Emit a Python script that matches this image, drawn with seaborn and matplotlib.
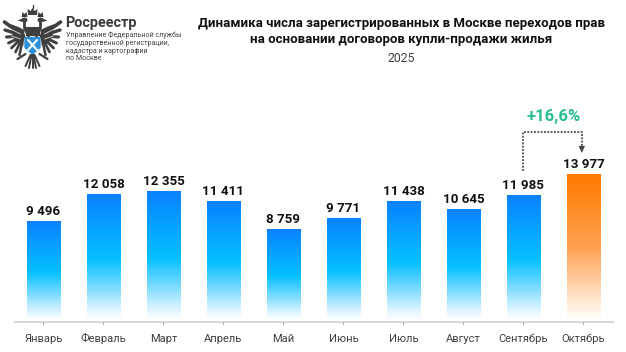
import numpy as np
import pandas as pd
import seaborn as sns
import matplotlib
matplotlib.use("Agg")
import matplotlib.pyplot as plt
from matplotlib.colors import LinearSegmentedColormap
from matplotlib.patches import Polygon, Ellipse

months = ["Январь", "Февраль", "Март", "Апрель", "Май", "Июнь", "Июль", "Август", "Сентябрь", "Октябрь"]
values = [9496, 12058, 12355, 11411, 8759, 9771, 11438, 10645, 11985, 13977]
value_labels = ["9 496", "12 058", "12 355", "11 411", "8 759", "9 771", "11 438", "10 645", "11 985", "13 977"]
change_label = "+16,6%"

W, H = 626, 352
sns.set_theme(style="white")
plt.rcParams["font.family"] = ["Roboto", "DejaVu Sans"]
fig = plt.figure(figsize=(W / 100, H / 100), dpi=100, facecolor="white")

left, right, base, top = 13.4, 613.4, 320, 60
ax = fig.add_axes([left / W, 1 - base / H, (right - left) / W, (base - top) / H])
df = pd.DataFrame({"month": months, "value": values})
sns.barplot(data=df, x="month", y="value", ax=ax, width=0.555, color="#0a84ff", saturation=1)
ax.set_xlim(-0.5, 9.5)
per_px = 13977 / 146
ax.set_ylim(0, (base - top) * per_px)
ax.set_xlabel(""); ax.set_ylabel("")
ax.set_yticks([])
for s in ["top", "left", "right", "bottom"]:
    ax.spines[s].set_visible(False)
ax.set_xticks(range(len(months)))
ax.set_xticklabels(months, fontsize=8.0, color="#404040", va="baseline")
ax.tick_params(axis="x", length=0, pad=16)

blue = LinearSegmentedColormap.from_list(
    "b", [(0, "#ffffff"), (0.1, "#d4f2ff"), (0.25, "#80dcff"), (0.48, "#05bfff"), (0.75, "#069fff"), (1, "#0a80ff")])
orange = LinearSegmentedColormap.from_list(
    "o", [(0, "#fffefc"), (0.1, "#ffeedd"), (0.25, "#ffd0a8"), (0.5, "#ffa050"), (1, "#ff7a00")])
grad = np.linspace(0, 1, 256).reshape(-1, 1)
ylim = ax.get_ylim()
for i, p in enumerate(ax.patches):
    x0, w, h = p.get_x(), p.get_width(), p.get_height()
    cm = orange if i == len(ax.patches) - 1 else blue
    im = ax.imshow(grad, extent=[x0, x0 + w, 0, h], origin="lower", cmap=cm, aspect="auto", zorder=3)
    im.set_clip_path(p)
    ax.text(i, h + 3 * per_px, value_labels[i], ha="center", va="bottom", fontsize=9.6,
            fontweight="bold", color="#111111", zorder=5)
ax.set_xlim(-0.5, 9.5); ax.set_ylim(*ylim)

ov = fig.add_axes([0, 0, 1, 1], facecolor="none")
ov.set_xlim(0, W); ov.set_ylim(H, 0); ov.axis("off")
ov.plot([14, 614], [321.7, 321.7], color="#d0d0d0", lw=1.2, solid_capstyle="butt")
for i in range(10):
    cx = ax.transData.transform((i, 0))[0]
    ov.plot([cx, cx], [322, 323.8], color="#999999", lw=0.6)

x_from = ax.transData.transform((8, 0))[0] - 0.6
x_to = ax.transData.transform((9, 0))[0] - 1.6
ov.plot([x_from, x_from, x_to, x_to], [171, 131.5, 131.5, 146], color="#606060", lw=1.5, ls=(0, (0.9, 0.7)))
ov.add_patch(Polygon([[x_to - 3.2, 146], [x_to + 3.2, 146], [x_to, 153]], closed=True, color="#444444", lw=0))
ov.text(553.5, 116.5, change_label, ha="center", va="center", fontsize=12, fontweight="bold", color="#27bd92")

ov.text(401.5, 23.5, "Динамика числа зарегистрированных в Москве переходов прав", ha="center", va="center",
        fontsize=9.5, fontweight="bold", color="#111111")
ov.text(401.5, 39, "на основании договоров купли-продажи жилья", ha="center", va="center",
        fontsize=9.5, fontweight="bold", color="#111111")
ov.text(401, 58.5, "2025", ha="center", va="center", fontsize=8.8, color="#404040")

ov.text(65.5, 23, "Росреестр", ha="left", va="center", fontsize=10.4, fontweight="bold", color="#3a3a3a")
for y, t in zip([35.5, 43.5, 51.5, 59],
                ["Управление Федеральной службы", "государственной регистрации,",
                 "кадастра и картографии", "по Москве"]):
    ov.text(66, y, t, ha="left", va="center", fontsize=5.15, color="#444444")

# emblem
c = "#3f3f3f"
cx0 = 32.5
for sgn in (-1, 1):
    X = lambda d: cx0 + sgn * d
    tips = [(28, 22, 2.6), (27.5, 30, 2.4), (26, 37, 2.2), (24, 43, 2.1), (21, 48, 2.0), (17, 52, 1.9), (13, 55, 1.8)]
    for dx, y1, lw in tips:
        ov.plot([X(9), X(dx)], [36, y1], color=c, lw=lw, solid_capstyle="round")
    ov.add_patch(Polygon([[X(8), 30], [X(14), 27], [X(22), 24], [X(20), 36], [X(16), 43], [X(9), 46]],
                         closed=True, color=c, lw=0))
    ov.plot([X(12), X(24)], [34, 28], color="white", lw=0.5)
    ov.plot([X(12), X(21)], [39, 36], color="white", lw=0.5)
    ov.plot([X(4), X(8), X(8)], [36, 28, 21], color=c, lw=2.0)
    ov.add_patch(Ellipse((X(8), 20), 6, 5, color=c, lw=0))
    ov.add_patch(Polygon([[X(10), 18.5], [X(15), 20.5], [X(10), 22]], closed=True, color=c, lw=0))
    ov.add_patch(Polygon([[X(5), 17], [X(6), 12], [X(8), 14], [X(10), 12], [X(11), 17]], closed=True, color=c, lw=0))
    ov.plot([X(2), X(7)], [55, 66], color=c, lw=1.4)
    ov.plot([X(1), X(3.5)], [55, 68], color=c, lw=1.4)
    ov.plot([X(7), X(15)], [54, 59], color=c, lw=1.6)
ov.plot([cx0, cx0], [55, 68], color=c, lw=1.4)
ov.add_patch(Polygon([[cx0 - 4.5, 15], [cx0 - 5, 9], [cx0 - 2, 11], [cx0, 8], [cx0 + 2, 11], [cx0 + 5, 9], [cx0 + 4.5, 15]],
                     closed=True, color=c, lw=0))
ov.plot([cx0, cx0], [5, 8], color=c, lw=1)
ov.add_patch(Polygon([[cx0 - 7, 27], [cx0 + 7, 27], [cx0 + 7, 36], [cx0 - 7, 36]], closed=True, color=c, lw=0))
ov.add_patch(Polygon([[cx0 - 8.5, 36.5], [cx0 + 8.5, 36.5], [cx0 + 8.5, 48], [cx0, 55.5], [cx0 - 8.5, 48]],
                     closed=True, facecolor="#2b8fd9", edgecolor="white", lw=0.5))
ov.plot([cx0 - 4.5, cx0 + 4.5], [40, 50], color="white", lw=1.5)
ov.plot([cx0 + 4.5, cx0 - 4.5], [40, 50], color="white", lw=1.5)

fig.savefig("out.png", dpi=100, facecolor="white")
